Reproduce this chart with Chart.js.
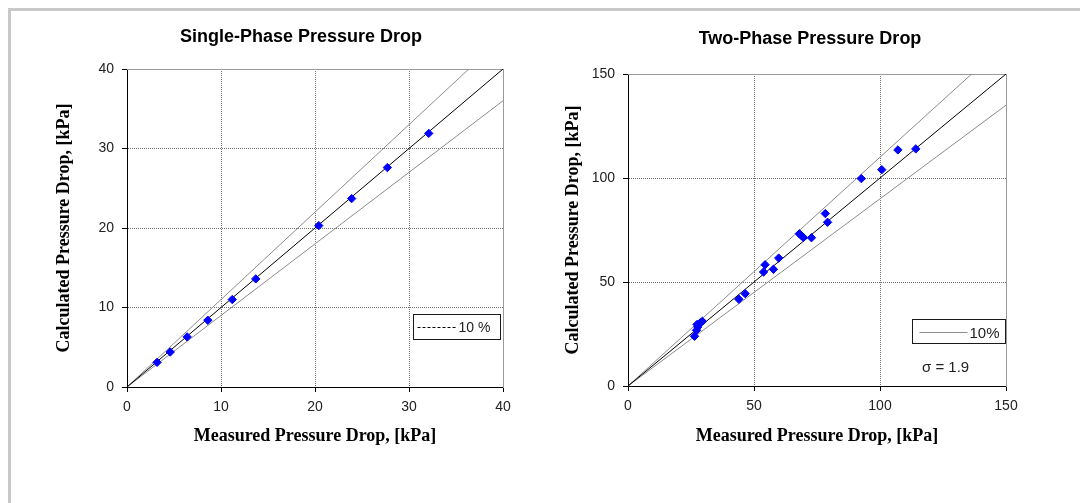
<!DOCTYPE html>
<html>
<head>
<meta charset="utf-8">
<title>Pressure Drop</title>
<script src="https://cdn.jsdelivr.net/npm/chart.js@4.4.1/dist/chart.umd.min.js"></script>
<style>
    html, body { margin: 0; padding: 0; background: #fff; overflow: hidden; }
    #page { position: relative; width: 1080px; height: 503px; overflow: hidden; }
    #frame { position: absolute; left: 8px; top: 8px; width: 1200px; height: 700px; border: 3px solid #c8c8c8; }
    canvas { position: absolute; top: 0; }
    #singleChart { left: 0; }
    #twoChart { left: 540px; }
</style>
</head>
<body>
<div id="page">
    <div id="frame"></div>
    <canvas id="singleChart" width="602" height="503"></canvas>
    <canvas id="twoChart" width="540" height="503"></canvas>
</div>
<script>
// ==========================================
// data (kPa)
// ==========================================
const singleMeasured   = [3.2, 4.6, 6.4, 8.6, 11.2, 13.7, 20.4, 23.9, 27.7, 32.1];
const singleCalculated = [3.1, 4.4, 6.3, 8.4, 11.0, 13.6, 20.3, 23.7, 27.6, 31.9];
const singleTicks = [0, 10, 20, 30, 40];

const twoMeasured   = [26.4, 27.2, 27.7, 27.4, 28.7, 29.5, 44.0, 46.5, 53.8, 54.4, 57.7,
                       59.8, 68.0, 68.8, 69.6, 72.8, 78.3, 79.2, 92.6, 100.7, 107.1, 114.2];
const twoCalculated = [23.9, 26.8, 28.4, 29.6, 30.4, 31.1, 41.7, 44.4, 54.8, 58.3, 56.1,
                       61.5, 73.2, 72.3, 71.4, 71.3, 82.9, 78.7, 99.7, 104.0, 113.5, 114.0];
const twoTicks = [0, 50, 100, 150];

const band = 0.10;           // +/- 10 % lines
const sigmaText = 'σ = 1.9';

const xTitle = 'Measured Pressure Drop, [kPa]';
const yTitle = 'Calculated Pressure Drop, [kPa]';

const sans = "'Liberation Sans', Arial, sans-serif";
const serif = "'Liberation Serif', 'Times New Roman', serif";

function pairs(xs, ys) {
    return xs.map((x, i) => ({ x: x, y: ys[i] }));
}

// legend box inside the plot (Excel style)
const boxLegend = {
    id: 'boxLegend',
    afterDraw(chart, args, o) {
        if (!o || !o.text) return;
        const { ctx, chartArea } = chart;
        const x = Math.round(chartArea.right - o.right - o.width) + 0.5;
        const y = Math.round(chartArea.bottom - o.bottom - o.height) + 0.5;
        const cy = Math.round(y + o.height / 2) + 0.5;
        ctx.save();
        ctx.strokeStyle = '#1a1a1a';
        ctx.lineWidth = 1;
        ctx.strokeRect(x, y, o.width, o.height);

        ctx.beginPath();
        ctx.setLineDash(o.dash || []);
        ctx.strokeStyle = o.lineColor;
        ctx.moveTo(x + o.lineFrom, cy);
        ctx.lineTo(x + o.lineTo, cy);
        ctx.stroke();
        ctx.setLineDash([]);

        ctx.fillStyle = '#222';
        ctx.font = o.font;
        ctx.textAlign = 'left';
        ctx.textBaseline = 'middle';
        ctx.fillText(o.text, x + o.textAt, cy + 1);
        if (o.note) {
            ctx.fillText(o.note, chartArea.right - o.noteRight, chartArea.bottom - o.noteBottom);
        }
        ctx.restore();
    }
};

function buildChart(id, o) {
    const lim = o.ticks[o.ticks.length - 1];
    const step = o.ticks[1] - o.ticks[0];
    const lineSet = (pts, color) => ({
        data: pts, showLine: true, borderColor: color, borderWidth: 1,
        pointRadius: 0, fill: false, order: 1
    });

    return new Chart(document.getElementById(id), {
        type: 'scatter',
        data: {
            datasets: [
                {
                    data: pairs(o.measured, o.calculated),
                    pointStyle: 'rectRot', pointRadius: 4.2,
                    backgroundColor: '#0000ff', borderColor: '#0000ff', borderWidth: 1,
                    order: 0
                },
                lineSet([{ x: 0, y: 0 }, { x: lim, y: lim }], '#000'),
                lineSet([{ x: 0, y: 0 }, { x: lim / (1 + band), y: lim }], '#8c8c8c'),
                lineSet([{ x: 0, y: 0 }, { x: lim, y: lim * (1 - band) }], '#8c8c8c')
            ]
        },
        options: {
            responsive: false,
            animation: false,
            events: [],
            layout: { padding: 0 },
            plugins: {
                legend: { display: false },
                tooltip: { enabled: false },
                title: {
                    display: true, text: o.title, color: '#000',
                    font: { family: sans, size: 18, weight: 'bold' },
                    padding: { top: o.titleTop, bottom: o.titleBottom }
                },
                boxLegend: o.legend
            },
            scales: {
                x: {
                    type: 'linear', position: 'bottom', min: 0, max: lim,
                    ticks: { stepSize: step, color: '#222', font: { family: sans, size: 14 }, padding: 7, maxRotation: 0 },
                    grid: { color: '#707070', tickColor: '#000', tickLength: 5 },
                    border: { color: '#000', width: 1, dash: [1, 1] },
                    title: {
                        display: true, text: xTitle, color: '#000',
                        font: { family: serif, size: 18, weight: 'bold' },
                        padding: { top: 0, bottom: 55.5 }
                    },
                    afterFit: s => { s.height = o.xHeight; }
                },
                y: {
                    type: 'linear', position: 'left', min: 0, max: lim,
                    ticks: { stepSize: step, color: '#222', font: { family: sans, size: 14 }, padding: 8 },
                    grid: { color: '#707070', tickColor: '#000', tickLength: 5 },
                    border: { color: '#000', width: 1, dash: [1, 1] },
                    title: {
                        display: true, text: yTitle, color: '#000',
                        font: { family: serif, size: 18, weight: 'bold' },
                        padding: { top: o.yTitlePad, bottom: 0 }
                    },
                    afterFit: s => { s.width = o.yWidth; }
                },
                // top and right edges of the plot box
                x2: {
                    axis: 'x', type: 'linear', position: 'top', min: 0, max: lim,
                    ticks: { display: false }, grid: { display: false },
                    border: { color: '#9a9a9a', width: 1 },
                    afterFit: s => { s.height = 0; }
                },
                y2: {
                    axis: 'y', type: 'linear', position: 'right', min: 0, max: lim,
                    ticks: { display: false }, grid: { display: false },
                    border: { color: '#9a9a9a', width: 1 },
                    afterFit: s => { s.width = o.rightWidth; }
                }
            }
        },
        plugins: [boxLegend]
    });
}

buildChart('singleChart', {
    title: 'Single-Phase Pressure Drop',
    measured: singleMeasured, calculated: singleCalculated, ticks: singleTicks,
    titleTop: 26, titleBottom: 21.4,
    xHeight: 116, yWidth: 127, yTitlePad: 53.2, rightWidth: 99,
    legend: {
        text: '10 %', font: '14px ' + sans,
        right: 3, bottom: 48, width: 87, height: 25,
        lineFrom: 4, lineTo: 42, dash: [3, 2], lineColor: '#000', textAt: 45
    }
});

buildChart('twoChart', {
    title: 'Two-Phase Pressure Drop',
    measured: twoMeasured, calculated: twoCalculated, ticks: twoTicks,
    titleTop: 28.5, titleBottom: 23.9,
    xHeight: 117, yWidth: 88, yTitlePad: 22.5, rightWidth: 74,
    legend: {
        text: '10%', font: '15px ' + sans,
        right: 1, bottom: 43, width: 93, height: 24,
        lineFrom: 7, lineTo: 55, lineColor: '#8c8c8c', textAt: 57,
        note: sigmaText, noteRight: 84, noteBottom: 18
    }
});
</script>
</body>
</html>
